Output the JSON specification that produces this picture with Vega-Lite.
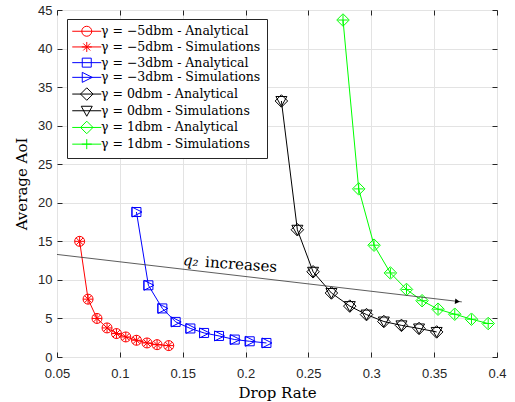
{
  "$schema": "https://vega.github.io/schema/vega-lite/v6.json",
  "width": 440,
  "height": 347,
  "autosize": {"type": "none"},
  "padding": {"left": 57, "top": 10, "right": 18, "bottom": 45},
  "background": "white",
  "config": {
    "view": {"stroke": "#262626", "strokeWidth": 1},
    "axis": {
      "gridColor": "#e3e3e3",
      "gridWidth": 1,
      "tickColor": "#262626",
      "tickWidth": 1,
      "domain": false,
      "labelFlush": false,
      "labelFont": "Liberation Sans",
      "labelFontSize": 13,
      "labelColor": "#262626",
      "titleFont": "DejaVu Serif",
      "titleFontSize": 15,
      "titleFontWeight": "normal",
      "titleColor": "#000000"
    }
  },
  "datasets": {
    "pts": [
      {"a": "γ = −5dbm - Analytical", "s": "γ = −5dbm - Simulations", "x": 0.068, "y": 15.0},
      {"a": "γ = −5dbm - Analytical", "s": "γ = −5dbm - Simulations", "x": 0.0747, "y": 7.5},
      {"a": "γ = −5dbm - Analytical", "s": "γ = −5dbm - Simulations", "x": 0.0818, "y": 5.0},
      {"a": "γ = −5dbm - Analytical", "s": "γ = −5dbm - Simulations", "x": 0.0898, "y": 3.77},
      {"a": "γ = −5dbm - Analytical", "s": "γ = −5dbm - Simulations", "x": 0.0973, "y": 3.04},
      {"a": "γ = −5dbm - Analytical", "s": "γ = −5dbm - Simulations", "x": 0.1047, "y": 2.6},
      {"a": "γ = −5dbm - Analytical", "s": "γ = −5dbm - Simulations", "x": 0.1132, "y": 2.17},
      {"a": "γ = −5dbm - Analytical", "s": "γ = −5dbm - Simulations", "x": 0.1216, "y": 1.82},
      {"a": "γ = −5dbm - Analytical", "s": "γ = −5dbm - Simulations", "x": 0.1296, "y": 1.6},
      {"a": "γ = −5dbm - Analytical", "s": "γ = −5dbm - Simulations", "x": 0.1389, "y": 1.48},
      {"a": "γ = −3dbm - Analytical", "s": "γ = −3dbm - Simulations", "x": 0.1132, "y": 18.8},
      {"a": "γ = −3dbm - Analytical", "s": "γ = −3dbm - Simulations", "x": 0.1227, "y": 9.3},
      {"a": "γ = −3dbm - Analytical", "s": "γ = −3dbm - Simulations", "x": 0.1338, "y": 6.3},
      {"a": "γ = −3dbm - Analytical", "s": "γ = −3dbm - Simulations", "x": 0.1444, "y": 4.55},
      {"a": "γ = −3dbm - Analytical", "s": "γ = −3dbm - Simulations", "x": 0.1561, "y": 3.7},
      {"a": "γ = −3dbm - Analytical", "s": "γ = −3dbm - Simulations", "x": 0.167, "y": 3.12},
      {"a": "γ = −3dbm - Analytical", "s": "γ = −3dbm - Simulations", "x": 0.1789, "y": 2.73},
      {"a": "γ = −3dbm - Analytical", "s": "γ = −3dbm - Simulations", "x": 0.1914, "y": 2.26},
      {"a": "γ = −3dbm - Analytical", "s": "γ = −3dbm - Simulations", "x": 0.2033, "y": 2.04},
      {"a": "γ = −3dbm - Analytical", "s": "γ = −3dbm - Simulations", "x": 0.2166, "y": 1.82},
      {"a": "γ = 0dbm - Analytical", "s": "γ = 0dbm - Simulations", "x": 0.2285, "y": 33.2},
      {"a": "γ = 0dbm - Analytical", "s": "γ = 0dbm - Simulations", "x": 0.2412, "y": 16.5},
      {"a": "γ = 0dbm - Analytical", "s": "γ = 0dbm - Simulations", "x": 0.2537, "y": 11.05},
      {"a": "γ = 0dbm - Analytical", "s": "γ = 0dbm - Simulations", "x": 0.2683, "y": 8.3},
      {"a": "γ = 0dbm - Analytical", "s": "γ = 0dbm - Simulations", "x": 0.2829, "y": 6.6},
      {"a": "γ = 0dbm - Analytical", "s": "γ = 0dbm - Simulations", "x": 0.2962, "y": 5.5},
      {"a": "γ = 0dbm - Analytical", "s": "γ = 0dbm - Simulations", "x": 0.31, "y": 4.6},
      {"a": "γ = 0dbm - Analytical", "s": "γ = 0dbm - Simulations", "x": 0.324, "y": 4.1},
      {"a": "γ = 0dbm - Analytical", "s": "γ = 0dbm - Simulations", "x": 0.338, "y": 3.7},
      {"a": "γ = 0dbm - Analytical", "s": "γ = 0dbm - Simulations", "x": 0.352, "y": 3.25},
      {"a": "γ = 1dbm - Analytical", "s": "γ = 1dbm - Simulations", "x": 0.2775, "y": 43.7},
      {"a": "γ = 1dbm - Analytical", "s": "γ = 1dbm - Simulations", "x": 0.29, "y": 21.8},
      {"a": "γ = 1dbm - Analytical", "s": "γ = 1dbm - Simulations", "x": 0.3022, "y": 14.5},
      {"a": "γ = 1dbm - Analytical", "s": "γ = 1dbm - Simulations", "x": 0.3152, "y": 10.9},
      {"a": "γ = 1dbm - Analytical", "s": "γ = 1dbm - Simulations", "x": 0.328, "y": 8.76},
      {"a": "γ = 1dbm - Analytical", "s": "γ = 1dbm - Simulations", "x": 0.3404, "y": 7.3},
      {"a": "γ = 1dbm - Analytical", "s": "γ = 1dbm - Simulations", "x": 0.3531, "y": 6.2},
      {"a": "γ = 1dbm - Analytical", "s": "γ = 1dbm - Simulations", "x": 0.3664, "y": 5.55},
      {"a": "γ = 1dbm - Analytical", "s": "γ = 1dbm - Simulations", "x": 0.3797, "y": 4.9},
      {"a": "γ = 1dbm - Analytical", "s": "γ = 1dbm - Simulations", "x": 0.393, "y": 4.34}
    ]
  },
  "resolve": {
    "scale": {"shape": "independent", "color": "independent"},
    "axis": {"x": "independent", "y": "independent"}
  },
  "layer": [
    {
      "data": {"name": "pts"},
      "mark": {"type": "line", "strokeWidth": 1},
      "encoding": {
        "x": {"field": "x", "type": "quantitative", "scale": {"domain": [0.05, 0.4], "nice": false, "zero": false},
          "axis": {"title": "Drop Rate", "titleFont": "DejaVu Serif", "titleFontSize": 15, "titleFontWeight": "normal", "values": [0.05, 0.1, 0.15, 0.2, 0.25, 0.3, 0.35, 0.4], "format": "~g", "grid": true, "tickSize": -5, "labelPadding": 15, "labelFlush": false, "titlePadding": 5}},
        "y": {"field": "y", "type": "quantitative", "scale": {"domain": [0, 45], "nice": false, "zero": false},
          "axis": {"title": "Average AoI", "titleFont": "DejaVu Serif", "titleFontSize": 15, "titleFontWeight": "normal", "values": [0, 5, 10, 15, 20, 25, 30, 35, 40, 45], "grid": true, "tickSize": -5, "labelPadding": 10, "labelFlush": false, "titlePadding": 8}},
        "color": {"field": "a", "type": "nominal", "legend": null,
          "scale": {"domain": ["γ = −5dbm - Analytical", "γ = −3dbm - Analytical", "γ = 0dbm - Analytical", "γ = 1dbm - Analytical"], "range": ["#ff0000", "#0000ff", "#000000", "#00ff00"]}},
        "detail": {"field": "a"}
      }
    },
    {
      "data": {"name": "pts"},
      "mark": {"type": "point", "filled": false, "strokeWidth": 1, "size": 100, "opacity": 1},
      "encoding": {
        "x": {"field": "x", "type": "quantitative", "axis": null},
        "y": {"field": "y", "type": "quantitative", "axis": null},
        "color": {"field": "a", "type": "nominal", "legend": null,
          "scale": {"domain": ["γ = −5dbm - Analytical", "γ = −3dbm - Analytical", "γ = 0dbm - Analytical", "γ = 1dbm - Analytical"], "range": ["#ff0000", "#0000ff", "#000000", "#00ff00"]}},
        "shape": {"field": "a", "type": "nominal", "legend": null,
          "scale": {"domain": ["γ = −5dbm - Analytical", "γ = −3dbm - Analytical", "γ = 0dbm - Analytical", "γ = 1dbm - Analytical"],
            "range": ["M1,0A1,1 0 1,1 -1,0A1,1 0 1,1 1,0Z", "M-0.9,-0.9H0.9V0.9H-0.9Z", "M0,-1.25L1.25,0L0,1.25L-1.25,0Z", "M0,-1.25L1.25,0L0,1.25L-1.25,0Z"]}}
      }
    },
    {
      "data": {"name": "pts"},
      "mark": {"type": "point", "filled": false, "strokeWidth": 1, "size": 100, "opacity": 1},
      "encoding": {
        "x": {"field": "x", "type": "quantitative", "axis": null},
        "y": {"field": "y", "type": "quantitative", "axis": null},
        "color": {"field": "s", "type": "nominal", "legend": null,
          "scale": {"domain": ["γ = −5dbm - Simulations", "γ = −3dbm - Simulations", "γ = 0dbm - Simulations", "γ = 1dbm - Simulations"], "range": ["#ff0000", "#0000ff", "#000000", "#00ff00"]}},
        "shape": {"field": "s", "type": "nominal", "legend": null,
          "scale": {"domain": ["γ = −5dbm - Simulations", "γ = −3dbm - Simulations", "γ = 0dbm - Simulations", "γ = 1dbm - Simulations"],
            "range": ["M-1,0H1M0,-1V1M-0.7,-0.7L0.7,0.7M-0.7,0.7L0.7,-0.7", "M-0.9,-1L1.1,0L-0.9,1Z", "M-1.1,-0.9H1.1L0,1.1Z", "M-1,0H1M0,-1V1"]}}
      }
    },
    {
      "data": {"values": [{"x": 0.05, "y": 13.3, "x2": 0.372, "y2": 7.15}]},
      "mark": {"type": "rule", "color": "#333333", "strokeWidth": 0.8},
      "encoding": {
        "x": {"field": "x", "type": "quantitative",
          "axis": {"orient": "top", "labels": false, "title": null, "grid": false, "tickSize": -5, "values": [0.05, 0.1, 0.15, 0.2, 0.25, 0.3, 0.35, 0.4]}},
        "y": {"field": "y", "type": "quantitative",
          "axis": {"orient": "right", "labels": false, "title": null, "grid": false, "tickSize": -5, "values": [0, 5, 10, 15, 20, 25, 30, 35, 40, 45]}},
        "x2": {"field": "x2"},
        "y2": {"field": "y2"}
      }
    },
    {
      "data": {"values": [{"x": 0.3685, "y": 7.2}]},
      "mark": {"type": "point", "shape": "triangle-right", "filled": true, "color": "#000000", "size": 30, "angle": 6.7, "opacity": 1},
      "encoding": {
        "x": {"field": "x", "type": "quantitative", "axis": null},
        "y": {"field": "y", "type": "quantitative", "axis": null}
      }
    },
    {
      "data": {"values": [{"x": 0.1565, "y": 12.5, "t": "q₂"}]},
      "mark": {"type": "text", "font": "DejaVu Serif", "fontStyle": "italic", "fontSize": 15, "angle": 4, "align": "center", "baseline": "middle", "color": "#000000"},
      "encoding": {
        "x": {"field": "x", "type": "quantitative", "axis": null},
        "y": {"field": "y", "type": "quantitative", "axis": null},
        "text": {"field": "t"}
      }
    },
    {
      "data": {"values": [{"x": 0.1965, "y": 12.0, "t": "increases"}]},
      "mark": {"type": "text", "font": "DejaVu Serif", "fontSize": 15, "angle": 4, "align": "center", "baseline": "middle", "color": "#000000"},
      "encoding": {
        "x": {"field": "x", "type": "quantitative", "axis": null},
        "y": {"field": "y", "type": "quantitative", "axis": null},
        "text": {"field": "t"}
      }
    },
    {
      "data": {"name": "pts"},
      "transform": [{"filter": "false"}],
      "mark": {"type": "point", "filled": false, "strokeWidth": 1, "size": 100, "opacity": 1},
      "encoding": {
        "x": {"field": "x", "type": "quantitative", "axis": null},
        "y": {"field": "y", "type": "quantitative", "axis": null},
        "color": {"field": "a", "type": "nominal",
          "scale": {"domain": ["γ = −5dbm - Analytical", "γ = −5dbm - Simulations", "γ = −3dbm - Analytical", "γ = −3dbm - Simulations", "γ = 0dbm - Analytical", "γ = 0dbm - Simulations", "γ = 1dbm - Analytical", "γ = 1dbm - Simulations"],
            "range": ["#ff0000", "#ff0000", "#0000ff", "#0000ff", "#000000", "#000000", "#00ff00", "#00ff00"]},
          "legend": {"orient": "none", "legendX": 10, "legendY": 9, "title": null, "strokeColor": "#262626", "fillColor": "#ffffff", "padding": 6,
            "labelFont": "DejaVu Serif", "labelFontSize": 12.5, "labelColor": "#000000", "labelLimit": 300,
            "symbolOffset": 7.5, "labelOffset": 8, "rowPadding": 0.7, "symbolStrokeWidth": 1, "symbolSize": 100}},
        "shape": {"field": "a", "type": "nominal",
          "scale": {"domain": ["γ = −5dbm - Analytical", "γ = −5dbm - Simulations", "γ = −3dbm - Analytical", "γ = −3dbm - Simulations", "γ = 0dbm - Analytical", "γ = 0dbm - Simulations", "γ = 1dbm - Analytical", "γ = 1dbm - Simulations"],
            "range": [
              "M-2.9,0H2.9M1,0A1,1 0 1,1 -1,0A1,1 0 1,1 1,0Z",
              "M-2.9,0H2.9M-1,0H1M0,-1V1M-0.7,-0.7L0.7,0.7M-0.7,0.7L0.7,-0.7",
              "M-2.9,0H2.9M-0.9,-0.9H0.9V0.9H-0.9Z",
              "M-2.9,0H2.9M-0.9,-1L1.1,0L-0.9,1Z",
              "M-2.9,0H2.9M0,-1.25L1.25,0L0,1.25L-1.25,0Z",
              "M-2.9,0H2.9M-1.1,-0.9H1.1L0,1.1Z",
              "M-2.9,0H2.9M0,-1.25L1.25,0L0,1.25L-1.25,0Z",
              "M-2.9,0H2.9M-1,0H1M0,-1V1"
            ]},
          "legend": {"orient": "none", "legendX": 10, "legendY": 9, "title": null, "strokeColor": "#262626", "fillColor": "#ffffff", "padding": 6,
            "labelFont": "DejaVu Serif", "labelFontSize": 12.5, "labelColor": "#000000", "labelLimit": 300,
            "symbolOffset": 7.5, "labelOffset": 8, "rowPadding": 0.7, "symbolStrokeWidth": 1, "symbolSize": 100}}
      }
    }
  ]
}
